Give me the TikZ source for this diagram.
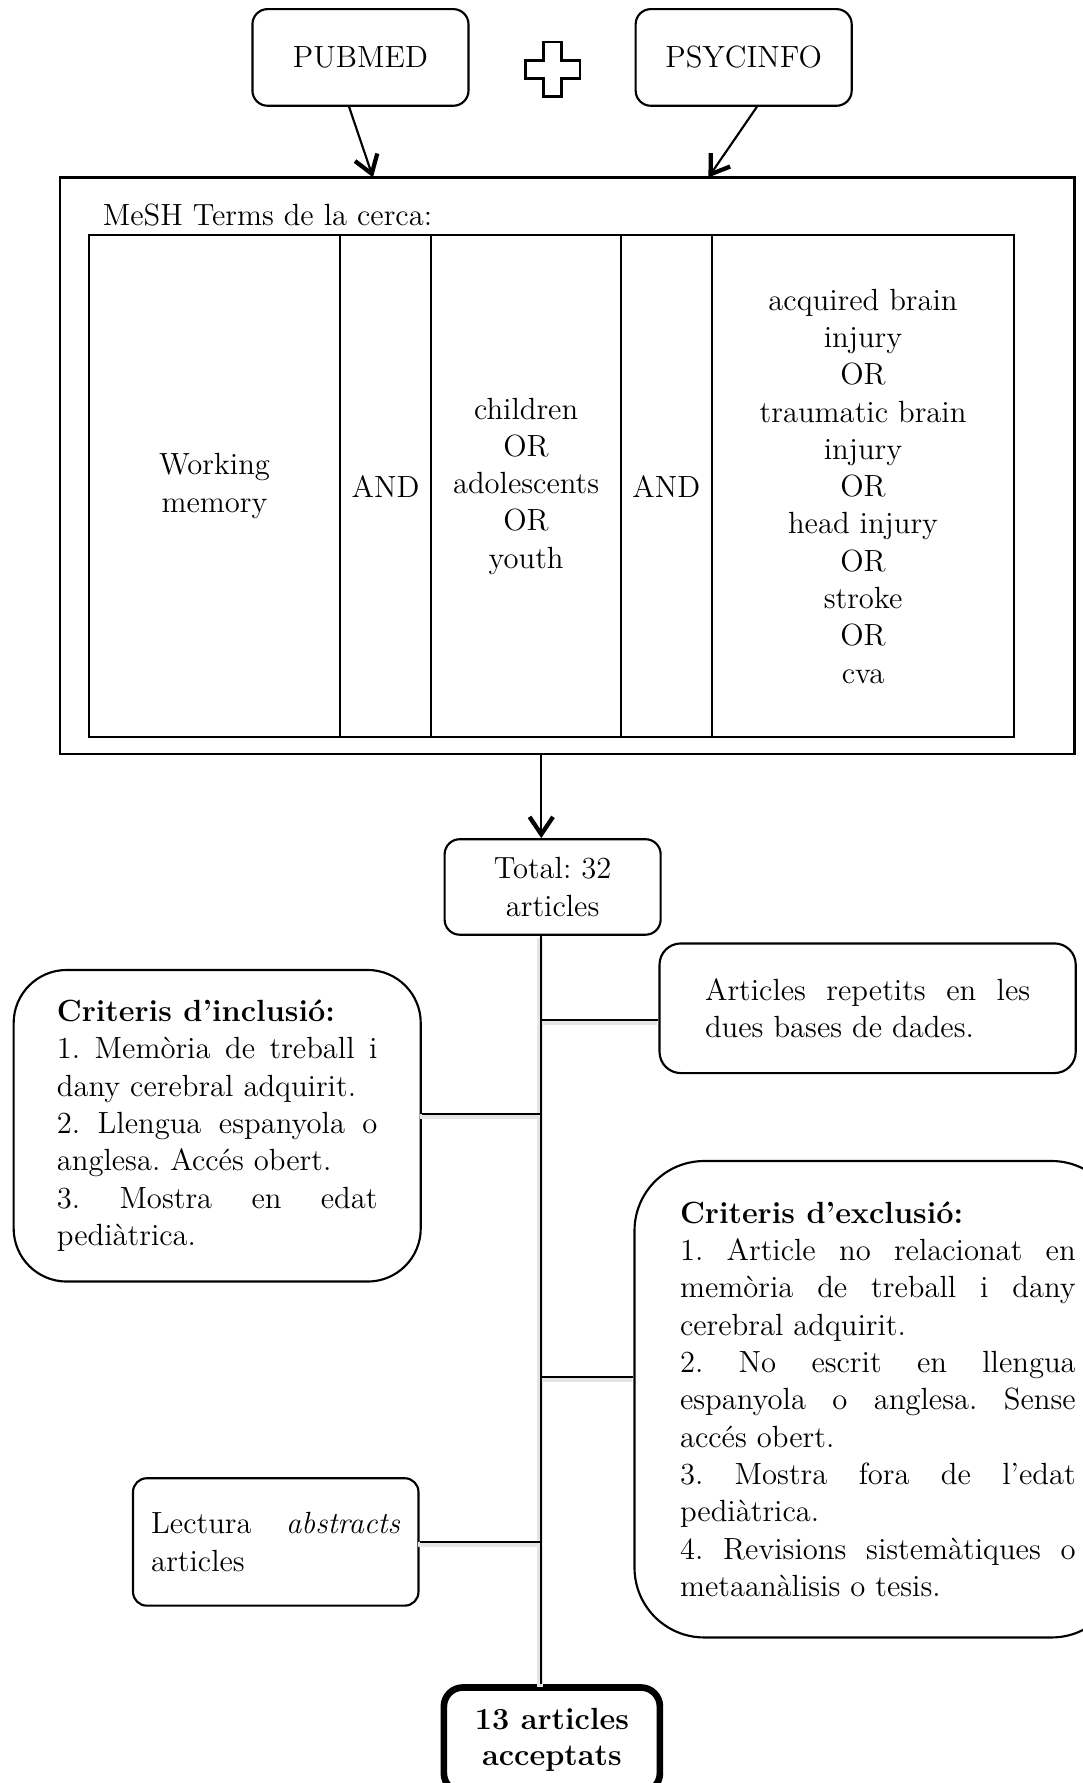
\documentclass[tikz,border=0pt]{standalone}
\usepackage{fontspec}
\usetikzlibrary{arrows.meta, positioning}
\frenchspacing

\begin{document}
\begin{tikzpicture}[
    font=\fontsize{11.5}{14}\selectfont,
    every node/.style={inner sep=0pt},
    dbbox/.style={draw, line width=0.8pt, rounded corners=0.2cm, minimum width=2.85cm, minimum height=1.275cm},
    textbox/.style={draw, line width=0.8pt, align=justify},
    colbox/.style={align=center},
    arrow/.style={draw, line width=0.8pt, -{Straight Barb[length=2.3mm, width=3.1mm, line width=1.6pt]}},
    branch/.style={draw, line width=0.8pt, preaction={draw=black!10, line width=2pt, transform canvas={shift={(-0.5pt,-0.9pt)}}}}
]
\useasboundingbox (0,0) rectangle (14.28,-23.52);

% Databases
\node[dbbox] (pubmed) at (4.755,-0.7575) {PUBMED};
\node[dbbox] (psycinfo) at (9.81,-0.7575) {PSYCINFO};
\coordinate (plus) at (7.29,-0.915);
\draw[line width=1pt] (plus) ++(-0.12,0.36) -- ++(0.24,0) -- ++(0,-0.24) -- ++(0.24,0) -- ++(0,-0.24) -- ++(-0.24,0) -- ++(0,-0.24) -- ++(-0.24,0) -- ++(0,0.24) -- ++(-0.24,0) -- ++(0,0.24) -- ++(0.24,0) -- cycle;

% Search terms
\node[draw, line width=0.9pt, minimum width=13.38cm, minimum height=7.605cm] (mesh) at (7.485,-6.1425) {};
\node[anchor=west] (meshlabel) at (1.35,-2.83) {MeSH Terms de la cerca:};
\node[draw, line width=0.8pt, minimum width=12.21cm, minimum height=6.615cm] (terms) at (7.275,-6.4125) {};
\foreach \x in {4.485,5.685,8.19,9.39}
    \draw[line width=0.8pt] (\x,0 |- terms.north) -- (\x,0 |- terms.south);

\node[colbox] (memory) at (2.83,-6.4125) {Working\\memory};
\node[colbox] (and1) at (5.085,-6.4125) {AND};
\node[colbox] (ages) at (6.94,-6.4125) {children\\OR\\adolescents\\OR\\youth};
\node[colbox] (and2) at (8.79,-6.4125) {AND};
\node[colbox] (injury) at (11.385,-6.4125) {acquired brain\\injury\\OR\\traumatic brain\\injury\\OR\\head injury\\OR\\stroke\\OR\\cva};

\coordinate (a1) at (4.92,-2.34);
\coordinate (a2) at (9.345,-2.34);
\path (pubmed.-103) edge[arrow] (a1);
\path (psycinfo.-75) edge[arrow] (a2);

% Selection
\node[draw, line width=0.8pt, rounded corners=0.2cm, align=center, minimum width=2.85cm, minimum height=1.26cm] (total) at (7.29,-11.7) {Total: 32\\articles};
\node[textbox, rounded corners=0.28cm, text width=4.29cm, inner xsep=0.6cm, minimum height=1.71cm] (repeat) at (11.445,-13.3) {Articles repetits en les\linebreak dues bases de dades.};
\node[textbox, rounded corners=0.7cm, text width=4.23cm, inner xsep=0.57cm, minimum height=4.11cm] (incl) at (2.865,-14.85) {\textbf{Criteris d’inclusió:}\\1. Memòria de treball i\linebreak dany cerebral adquirit.\\2. Llengua espanyola o\linebreak anglesa. Accés obert.\\3. Mostra en edat\linebreak pediàtrica.};
\node[textbox, rounded corners=0.92cm, text width=5.22cm, inner xsep=0.6cm, minimum height=6.285cm] (excl) at (11.58,-18.4575) {\textbf{Criteris d’exclusió:}\\1. Article no relacionat en\linebreak memòria de treball i dany\linebreak cerebral adquirit.\\2. No escrit en llengua\linebreak espanyola o anglesa. Sense\linebreak accés obert.\\3. Mostra fora de l’edat\linebreak pediàtrica.\\4. Revisions sistemàtiques o\linebreak metaanàlisis o tesis.};
\node[textbox, rounded corners=0.18cm, text width=3.285cm, inner xsep=0.24cm, minimum height=1.68cm] (abstracts) at (3.6375,-20.34) {Lectura \textit{abstracts}\linebreak articles};
\node[draw, line width=2.5pt, rounded corners=0.25cm, align=center, font=\fontsize{11.5}{13.5}\selectfont\bfseries, minimum width=2.85cm, minimum height=1.38cm] (accepted) at (7.28,-22.95) {13 articles\\acceptats};

% Trunk and branches
\coordinate (t0) at (7.14,0);
\path (t0 |- mesh.south) edge[arrow] (t0 |- total.north);
\coordinate (b1) at (7.14,-13.455);
\coordinate (b2) at (7.14,-14.7);
\coordinate (b3) at (7.14,-18.165);
\coordinate (b4) at (7.14,-20.34);
\draw[branch] (t0 |- total.south) -- (t0 |- accepted.north)
    (b1) -- (b1 -| repeat.west)
    (b2) -- (b2 -| incl.east)
    (b3) -- (b3 -| excl.west)
    (b4) -- (b4 -| abstracts.east);

\end{tikzpicture}
\end{document}
